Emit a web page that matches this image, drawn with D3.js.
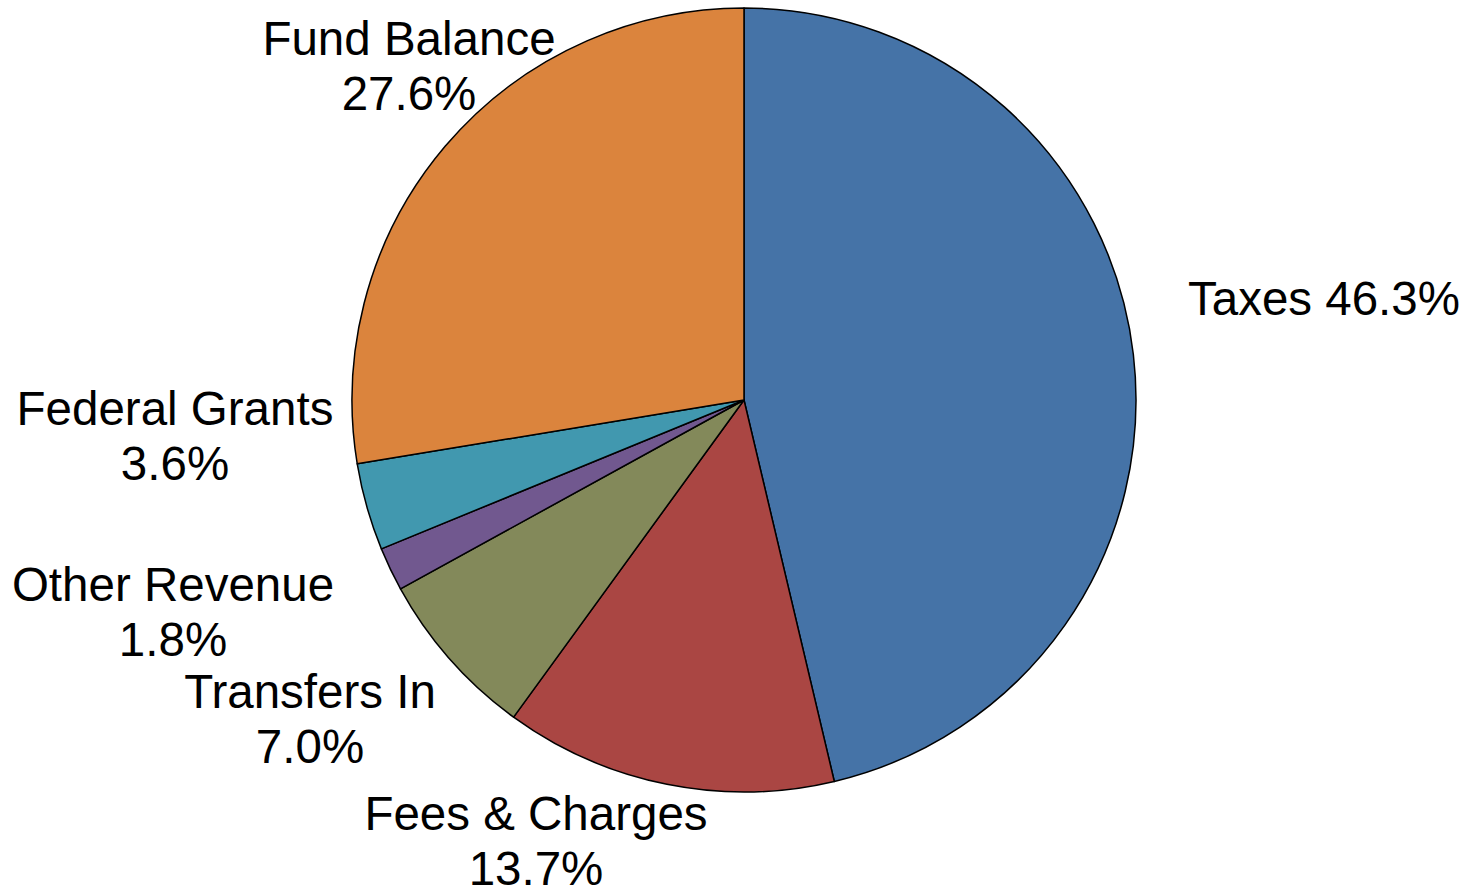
<!DOCTYPE html>
<html>
<head>
<meta charset="utf-8">
<script src="https://cdn.jsdelivr.net/npm/d3@7.9.0/dist/d3.min.js"></script>
<style>
  html, body { margin: 0; padding: 0; background: #fff; }
  svg { display: block; font-family: Arial, "Liberation Sans", sans-serif; }
</style>
</head>
<body>
<div id="chart"></div>
<script>
const categories = ['Taxes', 'Fees & Charges', 'Transfers In', 'Other Revenue', 'Federal Grants', 'Fund Balance'];
const shares     = [46.3, 13.7, 7.0, 1.8, 3.6, 27.6];
const colors     = ['#4573a7', '#aa4643', '#83895a', '#71588f', '#4198af', '#db843d'];

// label layout: [x, y of first baseline, anchor, one line?]
const labelLayout = [
  [1188, 315, 'start', true],
  [536, 830, 'middle', false],
  [310, 708, 'middle', false],
  [173, 601, 'middle', false],
  [175, 425, 'middle', false],
  [409, 55, 'middle', false],
];

const width = 1470, height = 888;
const cx = 744, cy = 400, radius = 392;
const fontSize = 47.5, lineGap = 55;

const data = categories.map((name, i) => ({ name, value: shares[i], color: colors[i] }));

const svg = d3.select('#chart').append('svg')
  .attr('width', width)
  .attr('height', height);

const pie = d3.pie().value(d => d.value).sort(null);
const arc = d3.arc().innerRadius(0).outerRadius(radius);

svg.append('g')
  .attr('transform', `translate(${cx},${cy})`)
  .selectAll('path')
  .data(pie(data))
  .join('path')
  .attr('d', arc)
  .attr('fill', d => d.data.color)
  .attr('stroke', '#000')
  .attr('stroke-width', 1.5)
  .attr('stroke-linejoin', 'round');

const labels = svg.append('g')
  .attr('font-size', fontSize)
  .attr('fill', '#000');

data.forEach((d, i) => {
  const [x, y, anchor, single] = labelLayout[i];
  const pct = d.value.toFixed(1) + '%';
  const t = labels.append('text')
    .attr('x', x)
    .attr('y', y)
    .attr('text-anchor', anchor);
  if (single) {
    t.text(`${d.name} ${pct}`);
  } else {
    t.append('tspan').attr('x', x).text(d.name);
    t.append('tspan').attr('x', x).attr('dy', lineGap).text(pct);
  }
});
</script>
</body>
</html>
